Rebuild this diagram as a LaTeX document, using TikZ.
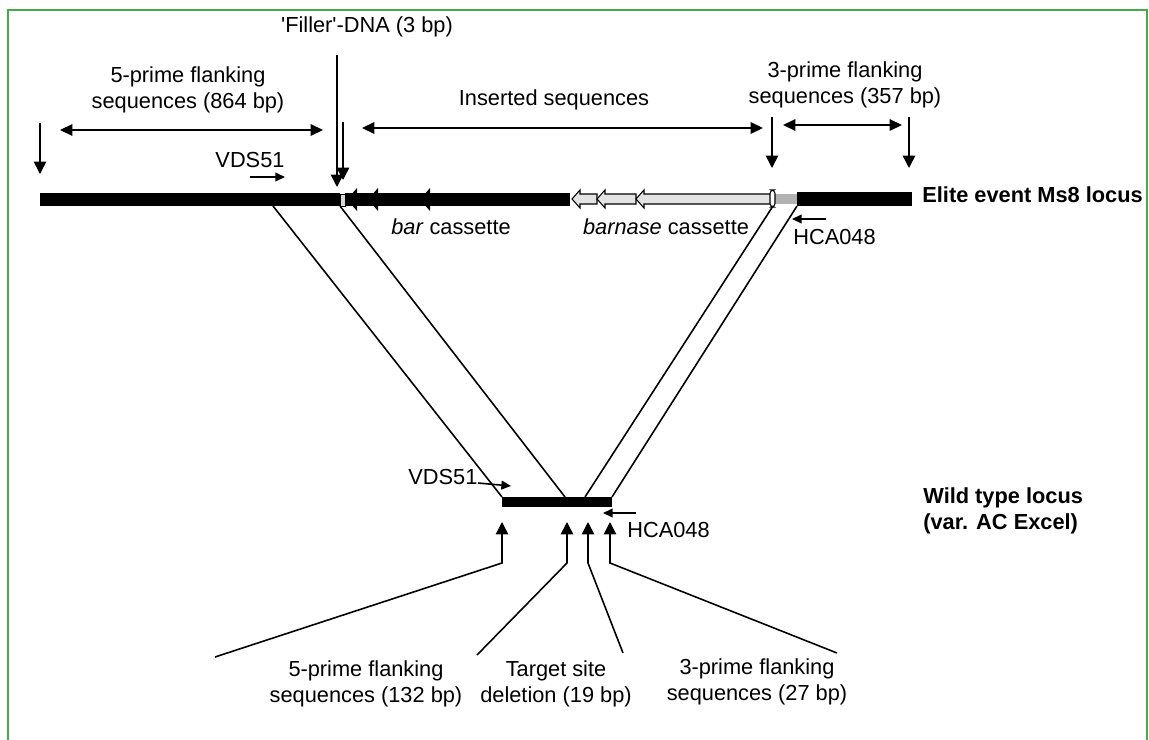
\documentclass[tikz,border=0pt]{standalone}
\usepackage{fontspec}
\setmainfont{Liberation Sans}
\usetikzlibrary{arrows.meta}
\definecolor{frame}{RGB}{70,170,70}
\begin{document}
\begin{tikzpicture}[x=0.02cm,y=-0.02cm,
  lbl/.style={font=\fontsize{12.4}{14.8}\selectfont, inner sep=0pt, align=center},
  blbl/.style={font=\fontsize{12.4}{14.8}\selectfont\bfseries, inner sep=0pt, align=left},
  ln/.style={line width=0.9pt},
  arr/.style={ln, -{Triangle[length=7pt,width=7pt]}},
  sarr/.style={ln, -{Triangle[length=5.5pt,width=5pt]}},
  darr/.style={ln, {Triangle[length=7pt,width=6.5pt]}-{Triangle[length=7pt,width=6.5pt]}},
  cass/.style={line width=0.6pt, draw=black, fill=gray!22},
  ]
\useasboundingbox (0,0) rectangle (1149,740);
\fill[white] (0,0) rectangle (1149,740);
% frame
\draw[frame, line width=1.3pt] (8,742) -- (8,10) -- (1147,10) -- (1147,742);

% ---------- top locus ----------
\fill (40,193) rectangle (340,206);
\draw[line width=0.4pt, fill=gray!30] (340,194) rectangle (345,206);
\fill (345,193) rectangle (570,206);
\foreach \t in {347,368,420} {
  \fill (\t,199.5) -- (\t+10,188) -- (\t+10,211) -- cycle;
}
\draw[cass] (572,199) -- (580,190) -- (580,194) -- (597,194) -- (597,204) -- (580,204) -- (580,208) -- cycle;
\draw[cass] (597,199) -- (605,190) -- (605,194) -- (636,194) -- (636,204) -- (605,204) -- (605,208) -- cycle;
\draw[cass] (636,199) -- (644,190) -- (644,194) -- (771,194) -- (771,204) -- (644,204) -- (644,208) -- cycle;
\fill[gray!60] (775,194) rectangle (797,204);
\fill (797,192) rectangle (912,206);
\draw[line width=0.6pt, fill=white, rounded corners=2] (770,190) rectangle (775,207);

% top annotations
\coordinate (a1s) at (40,123);  \coordinate (a1e) at (40,174);
\draw[arr] (a1s) -- (a1e);
\coordinate (f5l) at (60,130); \coordinate (f5r) at (323,130);
\draw[darr] (f5l) -- (f5r);
\node[lbl] (t5top) at (188,90) {5-prime flanking\\sequences (864 bp)};

\node[lbl] (tfill) at (367,27) {\textquotesingle Filler\textquotesingle-DNA (3 bp)};
\coordinate (fa1s) at (337,55);  \coordinate (fa1e) at (337,187);
\coordinate (fa2s) at (343,122); \coordinate (fa2e) at (343,180);
\draw[arr] (fa1s) -- (fa1e);
\draw[arr] (fa2s) -- (fa2e);

\coordinate (insl) at (362,128); \coordinate (insr) at (763,128);
\draw[darr] (insl) -- (insr);
\node[lbl] (tins) at (554,100) {Inserted sequences};

\coordinate (a3s) at (772,117); \coordinate (a3e) at (772,168);
\draw[arr] (a3s) -- (a3e);
\coordinate (a4s) at (909,117); \coordinate (a4e) at (909,168);
\draw[arr] (a4s) -- (a4e);
\coordinate (f3l) at (783,125); \coordinate (f3r) at (902,125);
\draw[darr] (f3l) -- (f3r);
\node[lbl] (t3top) at (845,85) {3-prime flanking\\sequences (357 bp)};

\node[lbl] (vds1) at (250,160) {VDS51};
\coordinate (v1s) at (250,177); \coordinate (v1e) at (285,177);
\draw[sarr] (v1s) -- (v1e);

\node[blbl, anchor=west] (elite) at (922,195) {Elite event Ms8 locus};
\node[lbl] (barc) at (451,227) {\textit{bar} cassette};
\node[lbl] (barnc) at (666,227) {\textit{barnase} cassette};

\coordinate (h1s) at (826,219); \coordinate (h1e) at (792,219);
\draw[sarr] (h1s) -- (h1e);
\node[lbl, anchor=west] (hca1) at (793,237) {HCA048};

% ---------- wild type locus ----------
\fill (502,497) rectangle (612,507);
\coordinate (p1) at (273,206); \coordinate (q1) at (502,497);
\coordinate (p2) at (340,206); \coordinate (q2) at (565,497);
\coordinate (p3) at (773,206); \coordinate (q3) at (585,497);
\coordinate (p4) at (797,206); \coordinate (q4) at (612,497);
\draw[ln] (p1) -- (q1);
\draw[ln] (p2) -- (q2);
\draw[ln] (p3) -- (q3);
\draw[ln] (p4) -- (q4);

\node[lbl, anchor=west] (vds2) at (408,477) {VDS51};
\coordinate (v2s) at (478,483); \coordinate (v2e) at (511,486);
\draw[sarr] (v2s) -- (v2e);
\coordinate (h2s) at (636,513); \coordinate (h2e) at (603,513);
\draw[sarr] (h2s) -- (h2e);
\node[lbl, anchor=west] (hca2) at (627,530) {HCA048};

\node[blbl, anchor=west] (wild) at (923,511) {Wild type locus\\(var. AC Excel)};

% bottom pointers
\coordinate (u1) at (502,522); \coordinate (u2) at (567,522);
\coordinate (u3) at (588,522); \coordinate (u4) at (610,522);
\coordinate (e1) at (215,657); \coordinate (e2) at (477,655);
\coordinate (e3) at (623,653); \coordinate (e4) at (837,653);
\draw[arr] (e1) -- (502,563) -- (u1);
\draw[arr] (e2) -- (567,563) -- (u2);
\draw[arr] (e3) -- (588,563) -- (u3);
\draw[arr] (e4) -- (610,563) -- (u4);

\node[lbl] (b5) at (366,684) {5-prime flanking\\sequences (132 bp)};
\node[lbl] (btd) at (556,684) {Target site\\deletion (19 bp)};
\node[lbl] (b3) at (757,682) {3-prime flanking\\sequences (27 bp)};
\end{tikzpicture}
\end{document}
